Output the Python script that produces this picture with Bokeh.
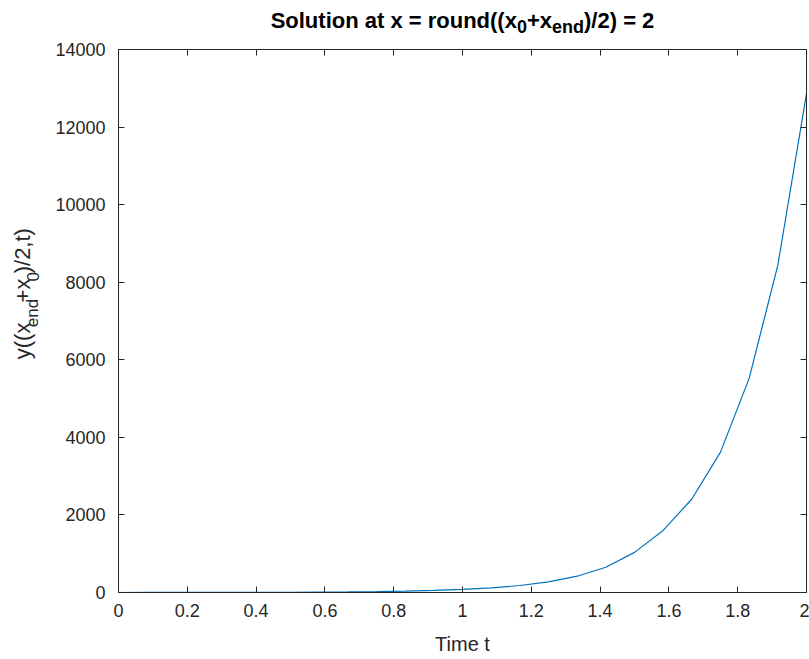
import math
from bokeh.plotting import figure
from bokeh.models import Range1d, FixedTicker, LinearAxis
from bokeh.layouts import column, row
from bokeh.core.properties import value
from bokeh.embed import file_html
from bokeh.resources import INLINE

# ---- data ----
time_t = [0.0, 0.0833, 0.1667, 0.25, 0.3333, 0.4167, 0.5, 0.5833, 0.6667, 0.75,
          0.8333, 0.9167, 1.0, 1.0833, 1.1667, 1.25, 1.3333, 1.4167, 1.5, 1.5833,
          1.6667, 1.75, 1.8333, 1.9167, 2.0]
y_mid = [0.6, 0.9, 1.3, 2, 3, 5, 7, 11, 16, 25, 37, 56, 82, 120, 180, 275,
         420, 650, 1035, 1600, 2410, 3620, 5520, 8440, 12860]

x_ticks = [0, 0.2, 0.4, 0.6, 0.8, 1, 1.2, 1.4, 1.6, 1.8, 2]
x_tick_labels = ["0", "0.2", "0.4", "0.6", "0.8", "1", "1.2", "1.4", "1.6", "1.8", "2"]
y_ticks = [0, 2000, 4000, 6000, 8000, 10000, 12000, 14000]
y_tick_labels = ["0", "2000", "4000", "6000", "8000", "10000", "12000", "14000"]

title_parts = [("Solution at x = round((x", False), ("0", True), ("+x", False),
               ("end", True), (")/2) = 2", False)]
ylabel_parts = [("y((x", False), ("end", True), ("+x", False), ("0", True), (")/2,t)", False)]
xlabel_text = "Time t"

FONT = "Liberation Sans"
AX = "#262626"
W, H = 809, 659
TITLE_H = 38          # height of the title strip
YLAB_W = 42           # width of the y-label strip
ML, MR, MT, MB = 118, 3, 49, 67   # main frame margins on the whole canvas

# Arial / Liberation Sans advance widths (per 1000 em)
REG = {' ': 278, '(': 333, ')': 333, '+': 584, ',': 278, '/': 278, '=': 584, '.': 278,
       'T': 611, 'e': 556, 'i': 222, 'm': 833, 't': 278, 'x': 500, 'y': 500, 'n': 556, 'd': 556}
BOLD = {' ': 278, '(': 333, ')': 333, '+': 584, '/': 278, '=': 584, 'S': 667, 'a': 556,
        'd': 611, 'e': 556, 'i': 278, 'l': 278, 'n': 611, 'o': 611, 'r': 389, 't': 333,
        'u': 611, 'x': 556}


def text_w(s, size, bold=False):
    tab = BOLD if bold else REG
    return sum(tab.get(c, 556) for c in s) * size / 1000.0


def blank_fig(w, h):
    f = figure(width=w, height=h, x_range=Range1d(0, w), y_range=Range1d(0, h),
               x_axis_type=None, y_axis_type=None, min_border=0,
               toolbar_location=None, output_backend="svg")
    f.outline_line_color = None
    f.background_fill_color = "white"
    f.border_fill_color = "white"
    return f


# ---- title strip ----
tf = blank_fig(W, TITLE_H)
TS, TSS, TSHIFT = 22, 18, 6
base = TITLE_H - 20
cx = ML + (W - ML - MR) / 2.0
widths = [text_w(s, TSS if sub else TS, True) for s, sub in title_parts]
x0 = cx - sum(widths) / 2.0
for (s, sub), w in zip(title_parts, widths):
    tf.text(x=[x0], y=[base - (TSHIFT if sub else 0)], text=[s],
            text_font=value(FONT), text_font_size=value(f"{TSS if sub else TS}px"),
            text_font_style="bold", text_color="black",
            text_align="left", text_baseline="alphabetic")
    x0 += w

# ---- y-label strip ----
RH = H - TITLE_H
yf = blank_fig(YLAB_W, RH)
YS, YSS, YSHIFT = 22, 17, 10
ybase = 22
cy = RH - ((MT - TITLE_H) + (H - MT - MB) / 2.0)
widths = [text_w(s, YSS if sub else YS) for s, sub in ylabel_parts]
y0 = cy - sum(widths) / 2.0
for (s, sub), w in zip(ylabel_parts, widths):
    yf.text(x=[ybase + (YSHIFT if sub else 0)], y=[y0], text=[s], angle=math.pi / 2,
            text_font=value(FONT), text_font_size=value(f"{YSS if sub else YS}px"),
            text_color=AX, text_align="left", text_baseline="alphabetic")
    y0 += w

# ---- main plot ----
p = figure(width=W - YLAB_W, height=RH, output_backend="svg", toolbar_location=None,
           x_range=Range1d(0, 2), y_range=Range1d(0, 14000),
           min_border_left=ML - YLAB_W, min_border_right=MR,
           min_border_top=MT - TITLE_H, min_border_bottom=MB)
p.grid.visible = False
p.outline_line_color = None
p.background_fill_color = "white"
p.border_fill_color = "white"

p.line(time_t, y_mid, line_color="#0072BD", line_width=1.2)

p.add_layout(LinearAxis(), "above")
p.add_layout(LinearAxis(), "right")

for ax in p.xaxis:
    ax.ticker = FixedTicker(ticks=x_ticks)
    ax.major_label_overrides = {v: s for v, s in zip(x_ticks, x_tick_labels)}
for ax in p.yaxis:
    ax.ticker = FixedTicker(ticks=y_ticks)
    ax.major_label_overrides = {v: s for v, s in zip(y_ticks, y_tick_labels)}

for ax in p.axis:
    ax.axis_line_color = AX
    ax.axis_line_width = 1
    ax.major_tick_line_color = AX
    ax.major_tick_in = 6
    ax.major_tick_out = 0
    ax.minor_tick_line_color = None
    ax.major_label_text_font = FONT
    ax.major_label_text_font_size = "18px"
    ax.major_label_text_color = AX

for ax in (p.above[-1], p.right[-1]):
    ax.major_label_text_font_size = "0px"
    ax.major_label_standoff = 0

bottom = p.below[0]
bottom.major_label_standoff = 11
bottom.axis_label = xlabel_text
bottom.axis_label_text_font = FONT
bottom.axis_label_text_font_size = "20px"
bottom.axis_label_text_font_style = "normal"
bottom.axis_label_text_color = AX
bottom.axis_label_standoff = 13
p.left[0].major_label_standoff = 13

layout = column(tf, row(yf, p, spacing=0), spacing=0)
open("out.html", "w").write(file_html(layout, INLINE))
